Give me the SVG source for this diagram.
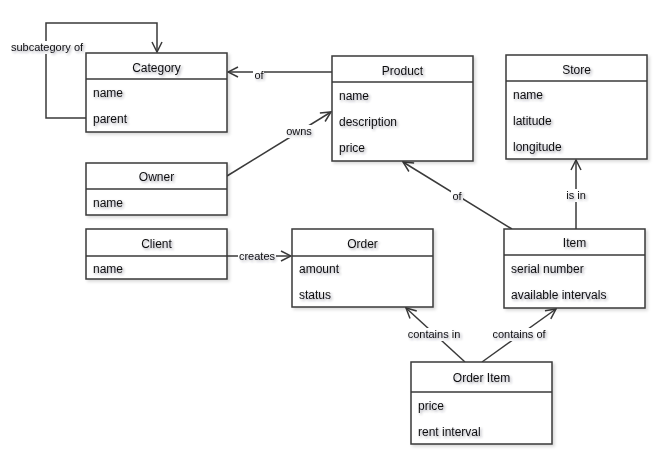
<svg xmlns="http://www.w3.org/2000/svg" width="663" height="464" viewBox="0 0 663 464">
<defs>
<style>
.box{fill:#fff;stroke:#3a3a3a;stroke-width:1.5}
.div{stroke:#3a3a3a;stroke-width:1.5}
.t{font-family:"Liberation Sans",Arial,sans-serif;font-size:12px;fill:#111;filter:url(#ts)}
.h{text-anchor:middle}
.lbl{font-family:"Liberation Sans",Arial,sans-serif;font-size:11px;fill:#111;text-anchor:middle;filter:url(#ts)}
.lblbg{fill:#fff}
.edge{fill:none;stroke:#3a3a3a;stroke-width:1.5}
</style>
<filter id="ts" x="-20%" y="-40%" width="140%" height="180%">
<feDropShadow dx="1.5" dy="1.5" stdDeviation="1" flood-color="#334" flood-opacity="0.45"/>
</filter>
<filter id="bs" x="-10%" y="-10%" width="130%" height="130%">
<feDropShadow dx="2" dy="2" stdDeviation="1.5" flood-color="#000" flood-opacity="0.15"/>
</filter>
<marker id="arr" viewBox="0 0 12 12" refX="11" refY="6" markerWidth="12" markerHeight="12" markerUnits="userSpaceOnUse" orient="auto">
<path d="M1,1 L11,6 L1,11" fill="none" stroke="#3a3a3a" stroke-width="1.5"/>
</marker>
</defs>

<g id="connectors">
<path class="edge" d="M86,118 H46 V23 H157 V52" marker-end="url(#arr)"/>
<path class="edge" d="M332,72 H228" marker-end="url(#arr)"/>
<path class="edge" d="M227,176 L331,112" marker-end="url(#arr)"/>
<path class="edge" d="M227,256 H291" marker-end="url(#arr)"/>
<path class="edge" d="M512,229 L403,162" marker-end="url(#arr)"/>
<path class="edge" d="M576,229 V160" marker-end="url(#arr)"/>
<path class="edge" d="M465,362 L406,308" marker-end="url(#arr)"/>
<path class="edge" d="M482,362 L556,309" marker-end="url(#arr)"/>
<g id="labels">
<rect class="lblbg" x="9" y="41" width="76" height="13"/>
<text class="lbl" x="47" y="51">subcategory of</text>
<rect class="lblbg" x="253" y="69" width="11" height="13"/>
<text class="lbl" x="259" y="79">of</text>
<rect class="lblbg" x="285" y="125" width="28" height="13"/>
<text class="lbl" x="299" y="135">owns</text>
<rect class="lblbg" x="238" y="250" width="38" height="13"/>
<text class="lbl" x="257" y="260">creates</text>
<rect class="lblbg" x="451" y="190" width="12" height="13"/>
<text class="lbl" x="457" y="200">of</text>
<rect class="lblbg" x="565" y="189" width="22" height="13"/>
<text class="lbl" x="576" y="199">is in</text>
<rect class="lblbg" x="406" y="328" width="56" height="13"/>
<text class="lbl" x="434" y="338">contains in</text>
<rect class="lblbg" x="490" y="328" width="58" height="13"/>
<text class="lbl" x="519" y="338">contains of</text>
</g>
</g>

<g id="category">
<rect class="box" x="86" y="53" width="141" height="79" filter="url(#bs)"/>
<line class="div" x1="86" y1="79" x2="227" y2="79"/>
<text class="t h" x="156.5" y="72">Category</text>
<text class="t" x="93" y="97">name</text>
<text class="t" x="93" y="123">parent</text>
</g>

<g id="product">
<rect class="box" x="332" y="56" width="141" height="105" filter="url(#bs)"/>
<line class="div" x1="332" y1="82" x2="473" y2="82"/>
<text class="t h" x="402.5" y="75">Product</text>
<text class="t" x="339" y="100">name</text>
<text class="t" x="339" y="126">description</text>
<text class="t" x="339" y="152">price</text>
</g>

<g id="store">
<rect class="box" x="506" y="55" width="141" height="104" filter="url(#bs)"/>
<line class="div" x1="506" y1="81" x2="647" y2="81"/>
<text class="t h" x="576.5" y="74">Store</text>
<text class="t" x="513" y="99">name</text>
<text class="t" x="513" y="125">latitude</text>
<text class="t" x="513" y="151">longitude</text>
</g>

<g id="owner">
<rect class="box" x="86" y="163" width="141" height="52" filter="url(#bs)"/>
<line class="div" x1="86" y1="189" x2="227" y2="189"/>
<text class="t h" x="156.5" y="181">Owner</text>
<text class="t" x="93" y="207">name</text>
</g>

<g id="client">
<rect class="box" x="86" y="229" width="141" height="50" filter="url(#bs)"/>
<line class="div" x1="86" y1="256" x2="227" y2="256"/>
<text class="t h" x="156.5" y="248">Client</text>
<text class="t" x="93" y="273">name</text>
</g>

<g id="order">
<rect class="box" x="292" y="229" width="141" height="78" filter="url(#bs)"/>
<line class="div" x1="292" y1="256" x2="433" y2="256"/>
<text class="t h" x="362.5" y="248">Order</text>
<text class="t" x="299" y="273">amount</text>
<text class="t" x="299" y="299">status</text>
</g>

<g id="item">
<rect class="box" x="504" y="229" width="141" height="79" filter="url(#bs)"/>
<line class="div" x1="504" y1="255" x2="645" y2="255"/>
<text class="t h" x="574.5" y="247">Item</text>
<text class="t" x="511" y="273">serial number</text>
<text class="t" x="511" y="299">available intervals</text>
</g>

<g id="orderitem">
<rect class="box" x="411" y="362" width="141" height="82" filter="url(#bs)"/>
<line class="div" x1="411" y1="392" x2="552" y2="392"/>
<text class="t h" x="481.5" y="382">Order Item</text>
<text class="t" x="418" y="410">price</text>
<text class="t" x="418" y="436">rent interval</text>
</g>
</svg>
